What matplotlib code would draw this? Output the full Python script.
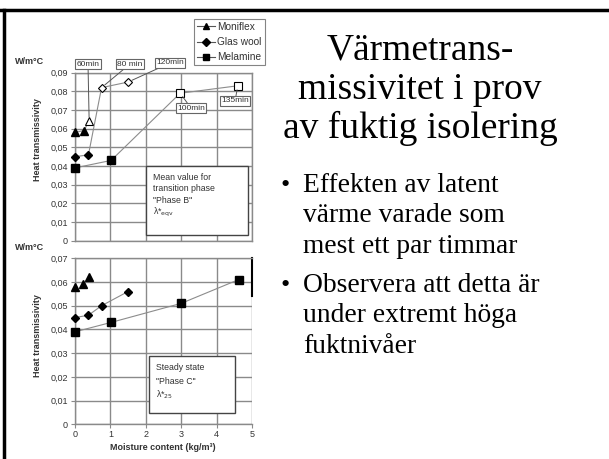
import matplotlib
matplotlib.use("Agg")
import matplotlib.pyplot as plt
from matplotlib.patches import Rectangle
from matplotlib.lines import Line2D
from matplotlib.ticker import FuncFormatter

# data
# top panel: transition phase (filled = start, open = peak)
moni_b_x = [0, 0.25]
moni_b_y = [0.058, 0.059]
moni_b_open_x = [0.4]
moni_b_open_y = [0.064]
glas_b_x = [0, 0.38]
glas_b_y = [0.045, 0.046]
glas_b_open_x = [0.75, 1.5]
glas_b_open_y = [0.082, 0.085]
mela_b_x = [0, 1.02]
mela_b_y = [0.039, 0.043]
mela_b_open_x = [2.97, 4.6]
mela_b_open_y = [0.079, 0.083]

# bottom panel: steady state
moni_c_x = [0, 0.24, 0.4]
moni_c_y = [0.058, 0.059, 0.062]
glas_c_x = [0, 0.38, 0.75, 1.5]
glas_c_y = [0.045, 0.046, 0.050, 0.056]
mela_c_x = [0, 1.03, 3.0, 4.62]
mela_c_y = [0.039, 0.043, 0.051, 0.061]

x_ticks = [0, 1, 2, 3, 4, 5]
top_yticks = [0, 0.01, 0.02, 0.03, 0.04, 0.05, 0.06, 0.07, 0.08, 0.09]
bot_yticks = [0, 0.01, 0.02, 0.03, 0.04, 0.05, 0.06, 0.07]

title_lines = ["Värmetrans-", "missivitet i prov", "av fuktig isolering"]
bullets = [
    ["Effekten av latent", "värme varade som", "mest ett par timmar"],
    ["Observera att detta är", "under extremt höga", "fuktnivåer"],
]

SANS = ["Liberation Sans", "DejaVu Sans"]
SERIF = ["Liberation Serif", "DejaVu Serif"]
LINE = "#8c8c8c"
GRID = "#8a8a8a"
TXT = "#333333"

W, H = 609, 459
fig = plt.figure(figsize=(W / 100, H / 100), dpi=100)


def fx(px):
    return px / W


def fy(py):
    return 1 - py / H


comma = FuncFormatter(lambda v, p: "0" if v == 0 else f"{v:.2f}".replace(".", ","))


def setup(ax, yticks, ymax):
    ax.set_xlim(0, 5)
    ax.set_ylim(0, ymax)
    ax.set_xticks(x_ticks)
    ax.set_yticks(yticks)
    ax.yaxis.set_major_formatter(comma)
    ax.grid(True, color=GRID, linewidth=1.0)
    for s in ax.spines.values():
        s.set_color(GRID)
        s.set_linewidth(1.0)
    ax.tick_params(colors=GRID, labelcolor=TXT, labelsize=6.5, length=3, width=0.8, pad=2)
    for lab in ax.get_xticklabels() + ax.get_yticklabels():
        lab.set_family(SANS)


ax1 = fig.add_axes([fx(75), fy(240.7), fx(252 - 75), fy(72.7) - fy(240.7)])
ax2 = fig.add_axes([fx(75), fy(424.3), fx(252 - 75), fy(258.3) - fy(424.3)])
setup(ax1, top_yticks, 0.09)
setup(ax2, bot_yticks, 0.07)
ax1.tick_params(axis="x", labelbottom=False, length=0)
ax2.tick_params(axis="x", pad=1)
ax2.spines["right"].set_visible(False)
ax2.axvline(5, ymin=0.77, ymax=1.0, color="black", linewidth=1.5, clip_on=False)

mk = dict(color="black", markersize=5.5, linestyle="none", zorder=4, clip_on=False)
op = dict(color="black", markerfacecolor="white", markersize=5.5, linestyle="none",
          markeredgewidth=0.8, zorder=4, clip_on=False)

# top panel lines
ax1.plot(moni_b_x + moni_b_open_x, moni_b_y + moni_b_open_y, color=LINE, lw=0.8, zorder=3)
ax1.plot(glas_b_x + glas_b_open_x, glas_b_y + glas_b_open_y, color=LINE, lw=0.8, zorder=3)
ax1.plot(mela_b_x + mela_b_open_x, mela_b_y + mela_b_open_y, color=LINE, lw=0.8, zorder=3)
ax1.plot(moni_b_x, moni_b_y, marker="^", **mk)
ax1.plot(moni_b_open_x, moni_b_open_y, marker="^", **op)
ax1.plot(glas_b_x, glas_b_y, marker="D", **dict(mk, markersize=4.5))
ax1.plot(glas_b_open_x, glas_b_open_y, marker="D", **dict(op, markersize=4.5))
ax1.plot(mela_b_x, mela_b_y, marker="s", **mk)
ax1.plot(mela_b_open_x, mela_b_open_y, marker="s", **op)

# bottom panel
ax2.plot(moni_c_x, moni_c_y, marker="^", **mk)
ax2.plot(glas_c_x, glas_c_y, color=LINE, lw=0.8, zorder=3)
ax2.plot(glas_c_x, glas_c_y, marker="D", **dict(mk, markersize=4.5))
ax2.plot(mela_c_x, mela_c_y, color=LINE, lw=0.8, zorder=3)
ax2.plot(mela_c_x, mela_c_y, marker="s", **mk)

# time labels
box = dict(boxstyle="square,pad=0.15", facecolor="white", edgecolor="#666666", linewidth=0.8)
arr = dict(arrowstyle="-", color="#555555", linewidth=0.7, shrinkA=0, shrinkB=3)
labels = [
    ("60min", moni_b_open_x[0], moni_b_open_y[0], 88, 64),
    ("80 min", glas_b_open_x[0], glas_b_open_y[0], 130, 64),
    ("120min", glas_b_open_x[1], glas_b_open_y[1], 170, 63),
    ("100min", mela_b_open_x[0], mela_b_open_y[0], 191, 108),
    ("135min", mela_b_open_x[1], mela_b_open_y[1], 235, 101),
]
for txt, x, y, tx, ty in labels:
    ax1.annotate(txt, xy=(x, y), xytext=(fx(tx), fy(ty)), textcoords="figure fraction",
                 ha="center", va="center", fontsize=6, family=SANS, color=TXT,
                 bbox=box, arrowprops=arr, annotation_clip=False, zorder=6)

# phase boxes
fig.add_artist(Rectangle((fx(146), fy(235)), fx(248 - 146), fy(166) - fy(235),
                         transform=fig.transFigure, facecolor="white",
                         edgecolor="#444444", linewidth=1.0, zorder=5))
phase_b = ["Mean value for", "transition phase", '"Phase B"', r"λ*$_{\rm eqv}$"]
for i, s in enumerate(phase_b):
    fig.text(fx(153), fy(177 + i * 11.7), s, fontsize=6.3, family=SANS, color=TXT,
             va="center", zorder=6)
fig.add_artist(Rectangle((fx(149), fy(413)), fx(235 - 149), fy(356) - fy(413),
                         transform=fig.transFigure, facecolor="white",
                         edgecolor="#444444", linewidth=1.0, zorder=5))
phase_c = ["Steady state", '"Phase C"', r"λ*$_{\rm 25}$"]
for i, s in enumerate(phase_c):
    fig.text(fx(156), fy(367 + i * 14), s, fontsize=6.3, family=SANS, color=TXT,
             va="center", zorder=6)

# legend
handles = [
    Line2D([], [], color="#555555", lw=0.8, marker="^", markersize=4.5, markerfacecolor="black", markeredgecolor="black"),
    Line2D([], [], color="#555555", lw=0.8, marker="D", markersize=4, markerfacecolor="black", markeredgecolor="black"),
    Line2D([], [], color="#555555", lw=0.8, marker="s", markersize=4.5, markerfacecolor="black", markeredgecolor="black"),
]
leg = fig.legend(handles, ["Moniflex", "Glas wool", "Melamine"], loc="upper left",
                 bbox_to_anchor=(fx(194), fy(19)), prop={"family": SANS, "size": 7.3},
                 frameon=True, fancybox=False, edgecolor="#666666", handlelength=1.8,
                 handletextpad=0.2, borderpad=0.3, labelspacing=0.5, borderaxespad=0)
leg.get_frame().set_linewidth(0.8)
for t in leg.get_texts():
    t.set_color(TXT)

# axis labels
for py in (62, 247):
    fig.text(fx(30), fy(py), "W/m°C", fontsize=6.5, family=SANS, weight="bold",
             color=TXT, ha="center", va="center")
for py in (140, 336):
    fig.text(fx(38), fy(py), "Heat transmissivity", fontsize=6.5, family=SANS,
             weight="bold", color=TXT, ha="center", va="center", rotation=90)
fig.text(fx(163), fy(448), "Moisture content (kg/m³)", fontsize=6.5, family=SANS,
         weight="bold", color=TXT, ha="center", va="center")

# slide frame
fig.add_artist(Line2D([0, 1], [fy(9.5), fy(9.5)], transform=fig.transFigure,
                      color="black", linewidth=2.5))
fig.add_artist(Line2D([fx(3.5), fx(3.5)], [0, fy(9.5)], transform=fig.transFigure,
                      color="black", linewidth=2.5))

# slide text
for i, s in enumerate(title_lines):
    fig.text(fx(420), fy(59 + i * 39.7), s, fontsize=27, family=SERIF, ha="center",
             va="baseline", color="black")
row = 0
for para_i, para in enumerate(bullets):
    for j, s in enumerate(para):
        y = 191.5 + row * 30.7 + para_i * 8
        if j == 0:
            fig.text(fx(285), fy(y), "•", fontsize=19, family=SERIF, ha="center",
                     va="baseline", color="black")
        fig.text(fx(303), fy(y), s, fontsize=19.8, family=SERIF, ha="left",
                 va="baseline", color="black")
        row += 1

fig.savefig("out.png", dpi=100)
